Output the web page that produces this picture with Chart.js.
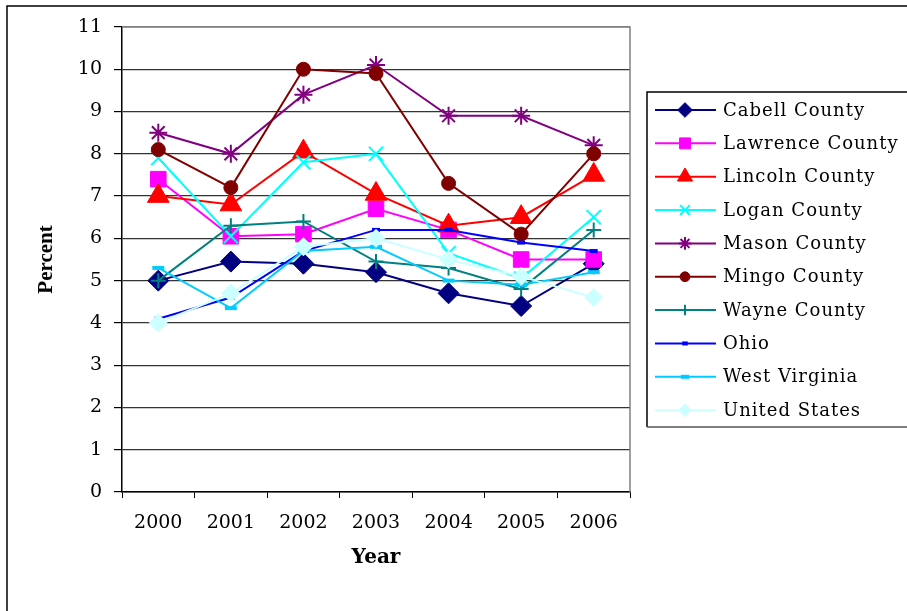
<!DOCTYPE html>
<html>
<head>
<meta charset="utf-8">
<script src="https://cdn.jsdelivr.net/npm/chart.js@4/dist/chart.umd.min.js"></script>
<style>
  body { margin: 0; background: #fff; }
  #wrap { width: 907px; height: 611px; position: relative; }
</style>
</head>
<body>
<div id="wrap"><canvas id="grafico" width="907" height="611"></canvas></div>
<script>
// Años y valores (porcentaje)
const years = ['2000', '2001', '2002', '2003', '2004', '2005', '2006'];
const seriesNames = ['Cabell County', 'Lawrence County', 'Lincoln County', 'Logan County', 'Mason County',
    'Mingo County', 'Wayne County', 'Ohio', 'West Virginia', 'United States'];
const cabell   = [5.0, 5.45, 5.4, 5.2, 4.7, 4.4, 5.4];
const lawrence = [7.4, 6.05, 6.1, 6.7, 6.2, 5.5, 5.5];
const lincoln  = [7.0, 6.8, 8.05, 7.05, 6.3, 6.5, 7.5];
const logan    = [7.9, 6.05, 7.8, 8.0, 5.65, 5.05, 6.5];
const mason    = [8.5, 8.0, 9.4, 10.1, 8.9, 8.9, 8.2];
const mingo    = [8.1, 7.2, 10.0, 9.9, 7.3, 6.1, 8.0];
const wayne    = [5.0, 6.3, 6.4, 5.45, 5.3, 4.8, 6.2];
const ohio     = [4.1, 4.6, 5.7, 6.2, 6.2, 5.9, 5.7];
const westVa   = [5.3, 4.35, 5.7, 5.8, 5.0, 4.9, 5.2];
const usa      = [4.0, 4.7, 5.8, 6.0, 5.5, 5.1, 4.6];
const yTicks = [0, 1, 2, 3, 4, 5, 6, 7, 8, 9, 10, 11];

const allValues = [cabell, lawrence, lincoln, logan, mason, mingo, wayne, ohio, westVa, usa];

// estilo de cada serie
const estilos = [
    { color: '#000080', fill: '#000080', style: 'rectRot', r: 10.5, bw: 1 },
    { color: '#FF00FF', fill: '#FF00FF', style: 'rect', r: 11, bw: 1 },
    { color: '#FF0000', fill: '#FF0000', style: 'triangle', r: 12.5, bw: 1 },
    { color: '#00FFFF', fill: '#00FFFF', style: 'crossRot', r: 10, bw: 2 },
    { color: '#800080', fill: '#800080', style: 'star', r: 9, bw: 2 },
    { color: '#800000', fill: '#800000', style: 'circle', r: 7, bw: 1 },
    { color: '#008080', fill: '#008080', style: 'cross', r: 7.5, bw: 2 },
    { color: '#0000FF', fill: '#0000FF', style: 'line', r: 4, bw: 4 },
    { color: '#00CCFF', fill: '#00CCFF', style: 'line', r: 6, bw: 4 },
    { color: '#CCFFFF', fill: '#CCFFFF', style: 'rectRot', r: 9, bw: 1 }
];

const datasets = seriesNames.map((name, i) => ({
    label: name,
    data: allValues[i],
    borderColor: estilos[i].color,
    backgroundColor: estilos[i].fill,
    borderWidth: 2,
    tension: 0,
    pointStyle: estilos[i].style,
    pointRadius: estilos[i].r,
    pointBorderWidth: estilos[i].bw,
    pointBorderColor: estilos[i].color,
    pointBackgroundColor: estilos[i].fill,
    order: seriesNames.length - i
}));

const serif = '"DejaVu Serif", serif';
Chart.defaults.color = '#000';

// Marco exterior, borde del área y leyenda
const extras = {
    id: 'extras',
    beforeDatasetsDraw(chart) {
        const { ctx, chartArea: a } = chart;
        ctx.save();
        ctx.strokeStyle = '#808080';
        ctx.lineWidth = 1.5;
        ctx.beginPath();
        ctx.moveTo(a.left, a.top);
        ctx.lineTo(a.right, a.top);
        ctx.lineTo(a.right, a.bottom);
        ctx.stroke();
        ctx.restore();
    },
    afterDraw(chart) {
        const ctx = chart.ctx;
        ctx.save();
        ctx.strokeStyle = '#000';
        ctx.lineWidth = 1.5;
        ctx.beginPath();
        ctx.moveTo(7, 611);
        ctx.lineTo(7, 6);
        ctx.lineTo(907, 6);
        ctx.stroke();

        // leyenda
        ctx.beginPath();
        ctx.moveTo(910, 92);
        ctx.lineTo(647, 92);
        ctx.lineTo(647, 427);
        ctx.stroke();
        ctx.strokeStyle = '#555';
        ctx.beginPath();
        ctx.moveTo(647, 427);
        ctx.lineTo(910, 427);
        ctx.stroke();

        ctx.font = '18px ' + serif;
        ctx.textBaseline = 'middle';
        ctx.textAlign = 'left';
        try { ctx.letterSpacing = '1px'; } catch (e) {}
        chart.data.datasets.forEach((ds, i) => {
            const y = 110 + i * 33.35;
            ctx.strokeStyle = ds.borderColor;
            ctx.lineWidth = 2;
            ctx.beginPath();
            ctx.moveTo(655, y);
            ctx.lineTo(716, y);
            ctx.stroke();
            ctx.fillStyle = ds.pointBackgroundColor;
            ctx.strokeStyle = ds.pointBorderColor;
            ctx.lineWidth = ds.pointBorderWidth;
            Chart.helpers.drawPoint(ctx, {
                pointStyle: ds.pointStyle,
                radius: ds.pointRadius * 0.7,
                borderWidth: ds.pointBorderWidth,
                rotation: 0
            }, 685, y);
            ctx.fillStyle = '#000';
            ctx.fillText(ds.label, 723, y + 1);
        });
        ctx.restore();
    }
};

const ctx = document.getElementById('grafico').getContext('2d');
new Chart(ctx, {
    type: 'line',
    data: { labels: years, datasets },
    options: {
        responsive: false,
        animation: false,
        layout: { padding: { left: 30, right: 277, top: 27, bottom: 37 } },
        plugins: {
            legend: { display: false },
            tooltip: { enabled: false }
        },
        scales: {
            x: {
                offset: true,
                afterFit: (scale) => { scale.height = 82; },
                grid: { offset: true, drawOnChartArea: false, tickLength: 6, color: '#000', lineWidth: 1 },
                border: { color: '#000', width: 1.5 },
                ticks: { font: { family: serif, size: 19 }, padding: 14, maxRotation: 0 },
                title: {
                    display: true,
                    text: 'Year',
                    font: { family: serif, size: 20, weight: 'bold' },
                    padding: { top: 4, bottom: 4 }
                }
            },
            y: {
                min: 0,
                max: 11,
                afterFit: (scale) => { scale.width = 92; },
                afterBuildTicks: (scale) => { scale.ticks = yTicks.map(v => ({ value: v })); },
                grid: {
                    color: (c) => (c.tick && c.tick.value === 11 ? '#808080' : '#333'),
                    lineWidth: 1.2,
                    tickLength: 8,
                    tickColor: '#000'
                },
                border: { color: '#000', width: 1.5 },
                ticks: { font: { family: serif, size: 19 }, padding: 12 },
                title: {
                    display: true,
                    text: 'Percent',
                    font: { family: '"Liberation Serif", serif', size: 21, weight: 'bold' },
                    padding: { top: 4, bottom: 4 }
                }
            }
        }
    },
    plugins: [extras]
});
</script>
</body>
</html>
